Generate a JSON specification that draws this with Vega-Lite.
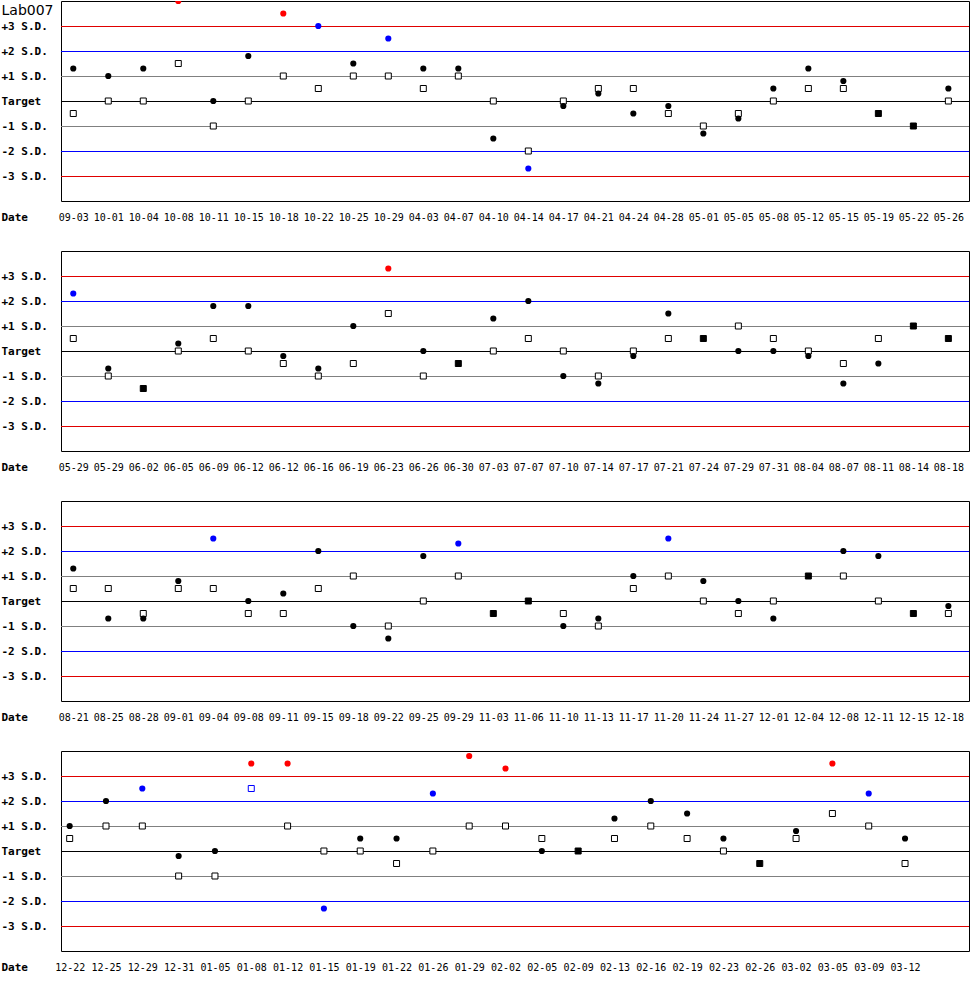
{
  "$schema": "https://vega.github.io/schema/vega-lite/v6.json",
  "background": "white",
  "padding": 0,
  "spacing": 50,
  "bounds": "flush",
  "datasets": {
    "levels": [
      {"sd": -3}, {"sd": -2}, {"sd": -1}, {"sd": 0}, {"sd": 1}, {"sd": 2}, {"sd": 3}
    ],
    "p1": [
      {"date": "09-03", "c": 1.3, "s": -0.5},
      {"date": "10-01", "c": 1, "s": 0},
      {"date": "10-04", "c": 1.3, "s": 0},
      {"date": "10-08", "c": 4, "s": 1.5},
      {"date": "10-11", "c": 0, "s": -1},
      {"date": "10-15", "c": 1.8, "s": 0},
      {"date": "10-18", "c": 3.5, "s": 1},
      {"date": "10-22", "c": 3, "s": 0.5},
      {"date": "10-25", "c": 1.5, "s": 1},
      {"date": "10-29", "c": 2.5, "s": 1},
      {"date": "04-03", "c": 1.3, "s": 0.5},
      {"date": "04-07", "c": 1.3, "s": 1},
      {"date": "04-10", "c": -1.5, "s": 0},
      {"date": "04-14", "c": -2.7, "s": -2},
      {"date": "04-17", "c": -0.2, "s": 0},
      {"date": "04-21", "c": 0.3, "s": 0.5},
      {"date": "04-24", "c": -0.5, "s": 0.5},
      {"date": "04-28", "c": -0.2, "s": -0.5},
      {"date": "05-01", "c": -1.3, "s": -1},
      {"date": "05-05", "c": -0.7, "s": -0.5},
      {"date": "05-08", "c": 0.5, "s": 0},
      {"date": "05-12", "c": 1.3, "s": 0.5},
      {"date": "05-15", "c": 0.8, "s": 0.5},
      {"date": "05-19", "c": -0.5, "s": -0.5},
      {"date": "05-22", "c": -1, "s": -1},
      {"date": "05-26", "c": 0.5, "s": 0}
    ],
    "p2": [
      {"date": "05-29", "c": 2.3, "s": 0.5},
      {"date": "05-29 #2", "c": -0.7, "s": -1},
      {"date": "06-02", "c": -1.5, "s": -1.5},
      {"date": "06-05", "c": 0.3, "s": 0},
      {"date": "06-09", "c": 1.8, "s": 0.5},
      {"date": "06-12", "c": 1.8, "s": 0},
      {"date": "06-12 #2", "c": -0.2, "s": -0.5},
      {"date": "06-16", "c": -0.7, "s": -1},
      {"date": "06-19", "c": 1, "s": -0.5},
      {"date": "06-23", "c": 3.3, "s": 1.5},
      {"date": "06-26", "c": 0, "s": -1},
      {"date": "06-30", "c": -0.5, "s": -0.5},
      {"date": "07-03", "c": 1.3, "s": 0},
      {"date": "07-07", "c": 2, "s": 0.5},
      {"date": "07-10", "c": -1, "s": 0},
      {"date": "07-14", "c": -1.3, "s": -1},
      {"date": "07-17", "c": -0.2, "s": 0},
      {"date": "07-21", "c": 1.5, "s": 0.5},
      {"date": "07-24", "c": 0.5, "s": 0.5},
      {"date": "07-29", "c": 0, "s": 1},
      {"date": "07-31", "c": 0, "s": 0.5},
      {"date": "08-04", "c": -0.2, "s": 0},
      {"date": "08-07", "c": -1.3, "s": -0.5},
      {"date": "08-11", "c": -0.5, "s": 0.5},
      {"date": "08-14", "c": 1, "s": 1},
      {"date": "08-18", "c": 0.5, "s": 0.5}
    ],
    "p3": [
      {"date": "08-21", "c": 1.3, "s": 0.5},
      {"date": "08-25", "c": -0.7, "s": 0.5},
      {"date": "08-28", "c": -0.7, "s": -0.5},
      {"date": "09-01", "c": 0.8, "s": 0.5},
      {"date": "09-04", "c": 2.5, "s": 0.5},
      {"date": "09-08", "c": 0, "s": -0.5},
      {"date": "09-11", "c": 0.3, "s": -0.5},
      {"date": "09-15", "c": 2, "s": 0.5},
      {"date": "09-18", "c": -1, "s": 1},
      {"date": "09-22", "c": -1.5, "s": -1},
      {"date": "09-25", "c": 1.8, "s": 0},
      {"date": "09-29", "c": 2.3, "s": 1},
      {"date": "11-03", "c": -0.5, "s": -0.5},
      {"date": "11-06", "c": 0, "s": 0},
      {"date": "11-10", "c": -1, "s": -0.5},
      {"date": "11-13", "c": -0.7, "s": -1},
      {"date": "11-17", "c": 1, "s": 0.5},
      {"date": "11-20", "c": 2.5, "s": 1},
      {"date": "11-24", "c": 0.8, "s": 0},
      {"date": "11-27", "c": 0, "s": -0.5},
      {"date": "12-01", "c": -0.7, "s": 0},
      {"date": "12-04", "c": 1, "s": 1},
      {"date": "12-08", "c": 2, "s": 1},
      {"date": "12-11", "c": 1.8, "s": 0},
      {"date": "12-15", "c": -0.5, "s": -0.5},
      {"date": "12-18", "c": -0.2, "s": -0.5}
    ],
    "p4": [
      {"date": "12-22", "c": 1, "s": 0.5},
      {"date": "12-25", "c": 2, "s": 1},
      {"date": "12-29", "c": 2.5, "s": 1},
      {"date": "12-31", "c": -0.2, "s": -1},
      {"date": "01-05", "c": 0, "s": -1},
      {"date": "01-08", "c": 3.5, "s": 2.5},
      {"date": "01-12", "c": 3.5, "s": 1},
      {"date": "01-15", "c": -2.3, "s": 0},
      {"date": "01-19", "c": 0.5, "s": 0},
      {"date": "01-22", "c": 0.5, "s": -0.5},
      {"date": "01-26", "c": 2.3, "s": 0},
      {"date": "01-29", "c": 3.8, "s": 1},
      {"date": "02-02", "c": 3.3, "s": 1},
      {"date": "02-05", "c": 0, "s": 0.5},
      {"date": "02-09", "c": 0, "s": 0},
      {"date": "02-13", "c": 1.3, "s": 0.5},
      {"date": "02-16", "c": 2, "s": 1},
      {"date": "02-19", "c": 1.5, "s": 0.5},
      {"date": "02-23", "c": 0.5, "s": 0},
      {"date": "02-26", "c": -0.5, "s": -0.5},
      {"date": "03-02", "c": 0.8, "s": 0.5},
      {"date": "03-05", "c": 3.5, "s": 1.5},
      {"date": "03-09", "c": 2.3, "s": 1},
      {"date": "03-12", "c": 0.5, "s": -0.5}
    ]
  },
  "vconcat": [
    {
      "data": {"name": "p1"},
      "width": 908,
      "height": 200,
      "resolve": {"scale": {"color": "independent", "stroke": "independent"}},
      "layer": [
        {
          "data": {"name": "levels"},
          "mark": {"type": "rule", "strokeWidth": 1, "yOffset": 0.5},
          "encoding": {
            "y": {"field": "sd", "type": "quantitative",
                  "scale": {"domain": [-4, 4], "nice": false, "zero": false},
                  "axis": {"values": [-3, -2, -1, 0, 1, 2, 3], "tickCount": 9, "labelOverlap": false,
                           "labelExpr": "datum.value == 0 ? 'Target' : (datum.value > 0 ? '+' : '') + datum.value + ' S.D.'",
                           "title": "Lab007", "titleAngle": 0, "titleX": -60, "titleY": 13, "titleAlign": "left", "titleBaseline": "alphabetic",
                           "titleFont": "DejaVu Sans", "titleFontSize": 14, "titleFontWeight": "normal", "titleColor": "black"}},
            "color": {"condition": [{"test": "abs(datum.sd) == 3", "value": "#e00000"}, {"test": "abs(datum.sd) == 2", "value": "#0000ff"}, {"test": "datum.sd == 0", "value": "#000000"}], "value": "#808080"}
          }
        },
        {
          "mark": {"type": "square", "size": 36, "strokeWidth": 1, "opacity": 1},
          "encoding": {
            "x": {"field": "date", "type": "nominal", "sort": null, "title": "Date",
                  "scale": {"type": "point", "padding": 0.47, "align": 0.373}},
            "y": {"field": "s", "type": "quantitative"},
            "fill": {"condition": {"test": "datum.c === datum.s", "value": "black"}, "value": "white"},
            "stroke": {"field": "s", "type": "quantitative", "legend": null,
                       "scale": {"type": "threshold", "domain": [-3, -2, 2.01, 3.01], "range": ["#ff0000", "#0000ff", "#000000", "#0000ff", "#ff0000"]}}
          }
        },
        {
          "mark": {"type": "circle", "size": 38, "clip": true},
          "encoding": {
            "x": {"field": "date", "type": "nominal", "sort": null},
            "y": {"field": "c", "type": "quantitative"},
            "opacity": {"condition": {"test": "datum.c === datum.s", "value": 0}, "value": 1},
            "color": {"field": "c", "type": "quantitative", "legend": null,
                      "scale": {"type": "threshold", "domain": [-3, -2, 2.01, 3.01], "range": ["#ff0000", "#0000ff", "#000000", "#0000ff", "#ff0000"]}}
          }
        }
      ]
    },
    {
      "data": {"name": "p2"},
      "width": 908,
      "height": 200,
      "resolve": {"scale": {"color": "independent", "stroke": "independent"}},
      "layer": [
        {
          "data": {"name": "levels"},
          "mark": {"type": "rule", "strokeWidth": 1, "yOffset": 0.5},
          "encoding": {
            "y": {"field": "sd", "type": "quantitative",
                  "scale": {"domain": [-4, 4], "nice": false, "zero": false},
                  "axis": {"values": [-3, -2, -1, 0, 1, 2, 3], "tickCount": 9, "labelOverlap": false,
                           "labelExpr": "datum.value == 0 ? 'Target' : (datum.value > 0 ? '+' : '') + datum.value + ' S.D.'",
                           "title": null}},
            "color": {"condition": [{"test": "abs(datum.sd) == 3", "value": "#e00000"}, {"test": "abs(datum.sd) == 2", "value": "#0000ff"}, {"test": "datum.sd == 0", "value": "#000000"}], "value": "#808080"}
          }
        },
        {
          "mark": {"type": "square", "size": 36, "strokeWidth": 1, "opacity": 1},
          "encoding": {
            "x": {"field": "date", "type": "nominal", "sort": null, "title": "Date",
                  "scale": {"type": "point", "padding": 0.47, "align": 0.373}},
            "y": {"field": "s", "type": "quantitative"},
            "fill": {"condition": {"test": "datum.c === datum.s", "value": "black"}, "value": "white"},
            "stroke": {"field": "s", "type": "quantitative", "legend": null,
                       "scale": {"type": "threshold", "domain": [-3, -2, 2.01, 3.01], "range": ["#ff0000", "#0000ff", "#000000", "#0000ff", "#ff0000"]}}
          }
        },
        {
          "mark": {"type": "circle", "size": 38, "clip": true},
          "encoding": {
            "x": {"field": "date", "type": "nominal", "sort": null},
            "y": {"field": "c", "type": "quantitative"},
            "opacity": {"condition": {"test": "datum.c === datum.s", "value": 0}, "value": 1},
            "color": {"field": "c", "type": "quantitative", "legend": null,
                      "scale": {"type": "threshold", "domain": [-3, -2, 2.01, 3.01], "range": ["#ff0000", "#0000ff", "#000000", "#0000ff", "#ff0000"]}}
          }
        }
      ]
    },
    {
      "data": {"name": "p3"},
      "width": 908,
      "height": 200,
      "resolve": {"scale": {"color": "independent", "stroke": "independent"}},
      "layer": [
        {
          "data": {"name": "levels"},
          "mark": {"type": "rule", "strokeWidth": 1, "yOffset": 0.5},
          "encoding": {
            "y": {"field": "sd", "type": "quantitative",
                  "scale": {"domain": [-4, 4], "nice": false, "zero": false},
                  "axis": {"values": [-3, -2, -1, 0, 1, 2, 3], "tickCount": 9, "labelOverlap": false,
                           "labelExpr": "datum.value == 0 ? 'Target' : (datum.value > 0 ? '+' : '') + datum.value + ' S.D.'",
                           "title": null}},
            "color": {"condition": [{"test": "abs(datum.sd) == 3", "value": "#e00000"}, {"test": "abs(datum.sd) == 2", "value": "#0000ff"}, {"test": "datum.sd == 0", "value": "#000000"}], "value": "#808080"}
          }
        },
        {
          "mark": {"type": "square", "size": 36, "strokeWidth": 1, "opacity": 1},
          "encoding": {
            "x": {"field": "date", "type": "nominal", "sort": null, "title": "Date",
                  "scale": {"type": "point", "padding": 0.47, "align": 0.373}},
            "y": {"field": "s", "type": "quantitative"},
            "fill": {"condition": {"test": "datum.c === datum.s", "value": "black"}, "value": "white"},
            "stroke": {"field": "s", "type": "quantitative", "legend": null,
                       "scale": {"type": "threshold", "domain": [-3, -2, 2.01, 3.01], "range": ["#ff0000", "#0000ff", "#000000", "#0000ff", "#ff0000"]}}
          }
        },
        {
          "mark": {"type": "circle", "size": 38, "clip": true},
          "encoding": {
            "x": {"field": "date", "type": "nominal", "sort": null},
            "y": {"field": "c", "type": "quantitative"},
            "opacity": {"condition": {"test": "datum.c === datum.s", "value": 0}, "value": 1},
            "color": {"field": "c", "type": "quantitative", "legend": null,
                      "scale": {"type": "threshold", "domain": [-3, -2, 2.01, 3.01], "range": ["#ff0000", "#0000ff", "#000000", "#0000ff", "#ff0000"]}}
          }
        }
      ]
    },
    {
      "data": {"name": "p4"},
      "width": 908,
      "height": 200,
      "resolve": {"scale": {"color": "independent", "stroke": "independent"}},
      "layer": [
        {
          "data": {"name": "levels"},
          "mark": {"type": "rule", "strokeWidth": 1, "yOffset": 0.5},
          "encoding": {
            "y": {"field": "sd", "type": "quantitative",
                  "scale": {"domain": [-4, 4], "nice": false, "zero": false},
                  "axis": {"values": [-3, -2, -1, 0, 1, 2, 3], "tickCount": 9, "labelOverlap": false,
                           "labelExpr": "datum.value == 0 ? 'Target' : (datum.value > 0 ? '+' : '') + datum.value + ' S.D.'",
                           "title": null}},
            "color": {"condition": [{"test": "abs(datum.sd) == 3", "value": "#e00000"}, {"test": "abs(datum.sd) == 2", "value": "#0000ff"}, {"test": "datum.sd == 0", "value": "#000000"}], "value": "#808080"}
          }
        },
        {
          "mark": {"type": "square", "size": 36, "strokeWidth": 1, "opacity": 1},
          "encoding": {
            "x": {"field": "date", "type": "nominal", "sort": null, "title": "Date",
                  "scale": {"type": "point", "padding": 1.47, "align": 0.1194}},
            "y": {"field": "s", "type": "quantitative"},
            "fill": {"condition": {"test": "datum.c === datum.s", "value": "black"}, "value": "white"},
            "stroke": {"field": "s", "type": "quantitative", "legend": null,
                       "scale": {"type": "threshold", "domain": [-3, -2, 2.01, 3.01], "range": ["#ff0000", "#0000ff", "#000000", "#0000ff", "#ff0000"]}}
          }
        },
        {
          "mark": {"type": "circle", "size": 38, "clip": true},
          "encoding": {
            "x": {"field": "date", "type": "nominal", "sort": null},
            "y": {"field": "c", "type": "quantitative"},
            "opacity": {"condition": {"test": "datum.c === datum.s", "value": 0}, "value": 1},
            "color": {"field": "c", "type": "quantitative", "legend": null,
                      "scale": {"type": "threshold", "domain": [-3, -2, 2.01, 3.01], "range": ["#ff0000", "#0000ff", "#000000", "#0000ff", "#ff0000"]}}
          }
        }
      ]
    }
  ],
  "config": {
    "view": {"stroke": "black", "strokeWidth": 1},
    "axisY": {
      "domain": false, "ticks": false, "grid": false, "labelAlign": "left", "labelPadding": 60, "labelOverlap": false,
      "labelFont": "DejaVu Sans Mono", "labelFontWeight": "bold", "labelFontSize": 11, "labelColor": "black"
    },
    "axisX": {
      "domain": false, "ticks": false, "grid": false, "labelAngle": 0, "labelPadding": 11,
      "labelFont": "DejaVu Sans Mono", "labelFontSize": 10, "labelColor": "black", "labelOverlap": false,
      "labelExpr": "slice(datum.label, 0, 5)",
      "titleFont": "DejaVu Sans Mono", "titleFontWeight": "bold", "titleFontSize": 11, "titleColor": "black",
      "titleX": -60, "titleY": 19, "titleAlign": "left", "titleBaseline": "alphabetic", "titleAnchor": "start"
    }
  }
}
